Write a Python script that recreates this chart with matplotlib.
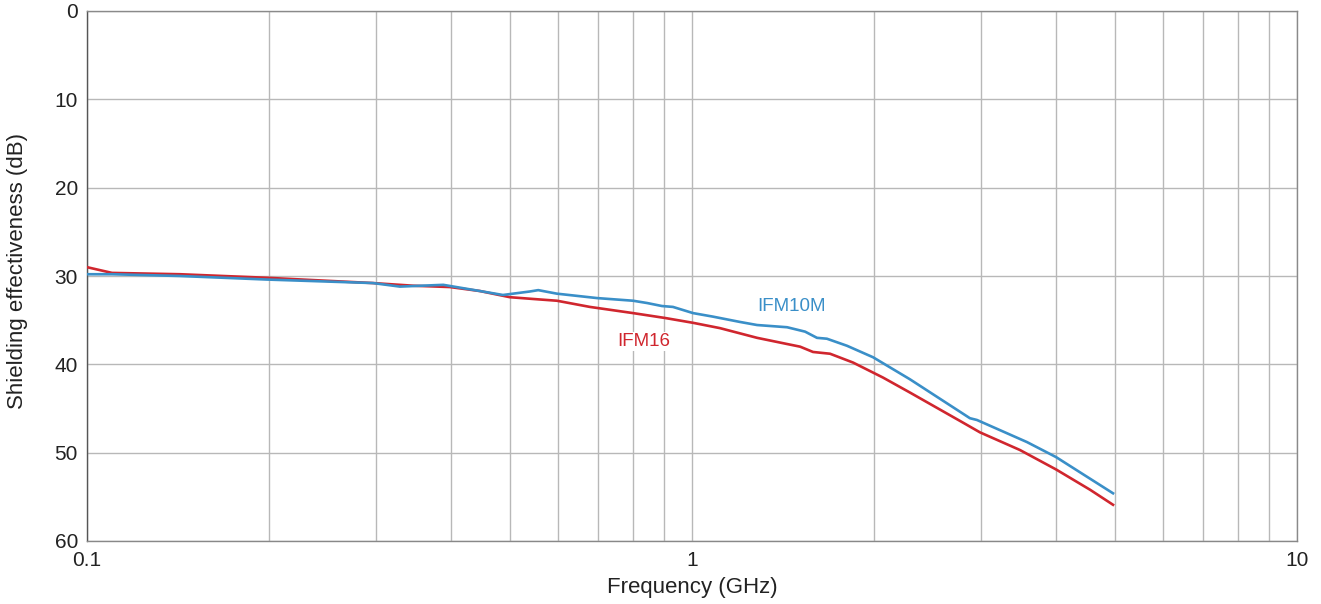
import matplotlib
matplotlib.use("Agg")
import matplotlib.pyplot as plt
from matplotlib.ticker import FixedLocator, NullFormatter, FixedFormatter

plt.rcParams['font.family'] = ['Liberation Sans', 'DejaVu Sans']

blue_f = [0.100, 0.110, 0.1425, 0.198, 0.297, 0.329, 0.388, 0.446, 0.487, 0.540, 0.557,
          0.598, 0.697, 0.799, 0.843, 0.892, 0.930, 1.004, 1.083, 1.200, 1.281, 1.436,
          1.538, 1.609, 1.671, 1.804, 1.992, 2.293, 2.880, 2.958, 3.578, 3.997, 4.965]
blue_db = [29.8, 29.8, 30.0, 30.4, 30.8, 31.2, 31.0, 31.7, 32.15, 31.75, 31.6,
           32.0, 32.5, 32.8, 33.06, 33.4, 33.5, 34.2, 34.6, 35.2, 35.55, 35.8,
           36.3, 37.0, 37.1, 37.9, 39.2, 41.7, 46.1, 46.3, 48.8, 50.5, 54.6]

red_f = [0.100, 0.110, 0.1425, 0.198, 0.297, 0.346, 0.398, 0.446, 0.500, 0.546, 0.598,
         0.678, 0.799, 0.902, 1.004, 1.112, 1.281, 1.436, 1.509, 1.585, 1.691, 1.846,
         2.069, 2.293, 2.805, 2.992, 3.484, 3.997, 4.550, 4.965]
red_db = [29.0, 29.65, 29.8, 30.2, 30.8, 31.1, 31.25, 31.7, 32.4, 32.6, 32.8,
          33.5, 34.2, 34.75, 35.3, 35.9, 37.0, 37.7, 38.0, 38.6, 38.8, 39.8,
          41.5, 43.2, 46.6, 47.7, 49.7, 51.9, 54.2, 55.9]

x_ticks = [0.1, 1, 10]
x_ticklabels = ["0.1", "1", "10"]
y_ticks = [0, 10, 20, 30, 40, 50, 60]

BLUE = "#3a8fc8"
RED = "#d0262e"
TXT = "#222222"

fig = plt.figure(figsize=(13.21, 6.04), dpi=100)
ax = fig.add_axes([87/1321, 1-541/604, 1210/1321, 530/604])

ax.plot(red_f, red_db, color=RED, lw=1.9, zorder=3)
ax.plot(blue_f, blue_db, color=BLUE, lw=1.9, zorder=4)

ax.set_xscale('log')
ax.set_xlim(0.1, 10)
ax.set_ylim(60, 0)

ax.xaxis.set_major_locator(FixedLocator(x_ticks))
ax.xaxis.set_major_formatter(FixedFormatter(x_ticklabels))
minors = [m * d for d in (0.1, 1) for m in range(2, 10)]
ax.xaxis.set_minor_locator(FixedLocator(minors))
ax.xaxis.set_minor_formatter(NullFormatter())
ax.set_yticks(y_ticks)

ax.grid(True, which='both', color='#b8b8b8', lw=1.0)
ax.set_axisbelow(True)
ax.tick_params(which='both', length=0, labelsize=15, colors=TXT)
ax.tick_params(axis='y', pad=6.5)
ax.tick_params(axis='x', pad=7)
for s in ax.spines.values():
    s.set_color('#8a8a8a')
    s.set_linewidth(1.0)
ax.spines['left'].set_color('#555555')
ax.spines['bottom'].set_color('#888888')

ax.set_xlabel("Frequency (GHz)", fontsize=16, color=TXT)
ax.set_ylabel("Shielding effectiveness (dB)", fontsize=16, color=TXT)
ax.xaxis.set_label_coords(0.5, (541 - 587) / 530)
ax.xaxis.label.set_va('center')
ax.yaxis.set_label_coords((18 - 87) / 1210, (541 - 271) / 530)
ax.yaxis.label.set_va('center')

ax.text(1.463, 33.4, "IFM10M", color=BLUE, fontsize=13.5, ha='center', va='center', zorder=5)
ax.text(0.833, 37.4, "IFM16", color=RED, fontsize=13.5, ha='center', va='center', zorder=5,
        bbox=dict(facecolor='white', edgecolor='none', pad=1))

fig.savefig("out.png", dpi=100)
